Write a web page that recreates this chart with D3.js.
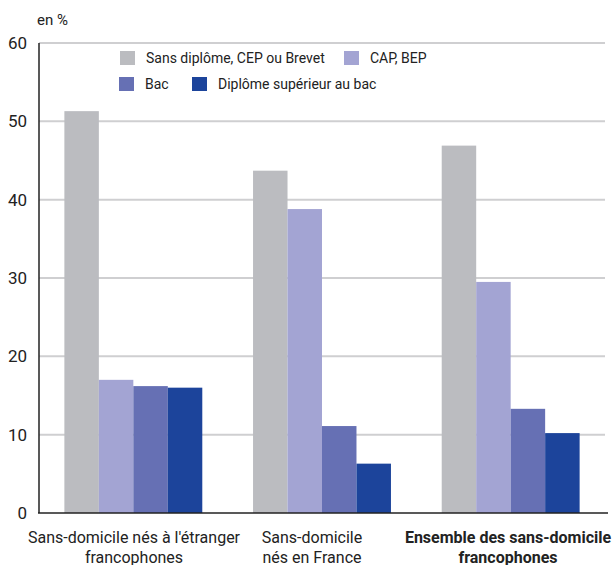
<!DOCTYPE html>
<html><head><meta charset="utf-8">
<script src="https://cdn.jsdelivr.net/npm/d3@7"></script>
<style>
html,body{margin:0;padding:0;background:#fff;}
svg{display:block;}
text{font-family:Roboto,"Liberation Sans",sans-serif;fill:#222;}
</style></head>
<body>
<script>
const categories = [
  ["Sans-domicile nés à l'étranger", "francophones"],
  ["Sans-domicile", "nés en France"],
  ["Ensemble des sans-domicile", "francophones"]
];
const seriesNames = ["Sans diplôme, CEP ou Brevet", "CAP, BEP", "Bac", "Diplôme supérieur au bac"];
const sansDiplome = [51.3, 43.7, 46.9];
const capBep = [17.0, 38.8, 29.5];
const bac = [16.2, 11.1, 13.3];
const diplomeSup = [16.0, 6.3, 10.2];
const yTicks = [0, 10, 20, 30, 40, 50, 60];
const colors = ["#bbbcc0", "#a3a4d3", "#6670b4", "#1c449b"];

const series = [sansDiplome, capBep, bac, diplomeSup];
const W = 615, H = 565;
const svg = d3.select("body").append("svg").attr("width", W).attr("height", H);

const x0 = d3.scaleBand().domain(d3.range(categories.length)).range([39, 605]).paddingInner(0.269).paddingOuter(0.1345);
const x1 = d3.scaleBand().domain(d3.range(series.length)).range([0, x0.bandwidth()]);
const y = d3.scaleLinear().domain([0, 60]).range([513, 43]);

// gridlines
svg.append("g").selectAll("line").data(yTicks.filter(t => t > 0)).join("line")
  .attr("x1", 39).attr("x2", 605)
  .attr("y1", d => y(d)).attr("y2", d => y(d))
  .attr("stroke", "#cfcfd1").attr("stroke-width", 2);

// bars
const g = svg.append("g");
categories.forEach((c, i) => {
  series.forEach((s, j) => {
    g.append("rect")
      .attr("x", x0(i) + x1(j))
      .attr("width", x1.bandwidth())
      .attr("y", y(s[i]))
      .attr("height", y(0) - y(s[i]))
      .attr("fill", colors[j]);
  });
});

// axes lines
svg.append("line").attr("x1", 39).attr("x2", 39).attr("y1", y(60)).attr("y2", y(0)).attr("stroke", "#222").attr("stroke-width", 1.5);
svg.append("line").attr("x1", 38).attr("x2", 608).attr("y1", y(0)).attr("y2", y(0)).attr("stroke", "#222").attr("stroke-width", 1.5);

// y tick labels
svg.append("g").selectAll("text").data(yTicks).join("text")
  .attr("x", 27).attr("y", d => y(d) + 6)
  .attr("text-anchor", "end").attr("font-size", 17)
  .text(d => d);

svg.append("text").attr("x", 37).attr("y", 25).attr("font-size", 15).text("en %");

// legend
const legendPos = [[120, 51], [344, 51], [119, 77], [192, 77]];
seriesNames.forEach((n, j) => {
  const [lx, ly] = legendPos[j];
  svg.append("rect").attr("x", lx).attr("y", ly).attr("width", 15).attr("height", 14).attr("fill", colors[j]);
  svg.append("text").attr("x", lx + 26).attr("y", ly + 12).attr("font-size", 14).text(n);
});

// category labels
const labelCenters = [134, 312, 508];
categories.forEach((c, i) => {
  const cx = x0(i) + x0.bandwidth() / 2 + (labelCenters[i] - (x0(i) + x0.bandwidth() / 2));
  const t = svg.append("text").attr("text-anchor", "middle").attr("font-size", 16)
    .attr("font-weight", i === 2 ? "bold" : "normal");
  c.forEach((line, k) => {
    t.append("tspan").attr("x", cx).attr("y", 543 + k * 19.5).text(line);
  });
});
</script>
</body></html>
